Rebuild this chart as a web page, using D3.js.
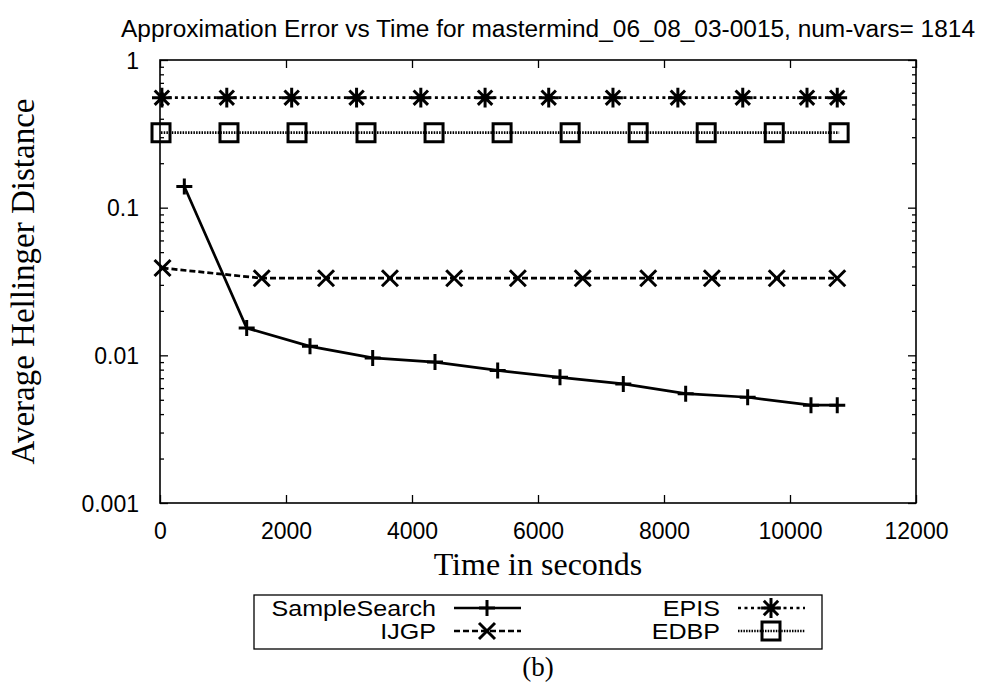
<!DOCTYPE html>
<html>
<head>
<meta charset="utf-8">
<script src="https://cdn.jsdelivr.net/npm/d3@7"></script>
<style>
  body { margin: 0; background: #fff; }
  svg { display: block; }
  .tick text { font-family: "Liberation Sans", Arial, sans-serif; font-size: 23px; fill: #000; }
</style>
</head>
<body>
<div id="chart"></div>
<script>
// values
const ssTime = [386, 1376, 2381, 3376, 4365, 5360, 6349, 7354, 8344, 9328, 10333, 10750];
const ssErr = [0.139, 0.0153, 0.0115, 0.0096, 0.0090, 0.0079, 0.0071, 0.0064, 0.0055, 0.0052, 0.0046, 0.0046];

const ijgpTime = [40, 1615, 2635, 3650, 4670, 5680, 6710, 7750, 8760, 9790, 10750];
const ijgpErr = [0.039, 0.0333, 0.0333, 0.0333, 0.0333, 0.0333, 0.0333, 0.0333, 0.0333, 0.0333, 0.0333];

const episTime = [30, 1060, 2090, 3120, 4140, 5160, 6170, 7190, 8220, 9250, 10270, 10750];
const episErr = [0.556, 0.556, 0.556, 0.556, 0.556, 0.556, 0.556, 0.556, 0.556, 0.556, 0.556, 0.556];

const edbpTime = [16, 1095, 2175, 3270, 4350, 5430, 6510, 7590, 8670, 9750, 10780];
const edbpErr = [0.322, 0.322, 0.322, 0.322, 0.322, 0.322, 0.322, 0.322, 0.322, 0.322, 0.322];

const xTicks = [0, 2000, 4000, 6000, 8000, 10000, 12000];
const yTicks = [0.001, 0.01, 0.1, 1];
const yLabels = ["0.001", "0.01", "0.1", "1"];

const width = 987, height = 683;
const margin = {top: 60, right: 71, bottom: 180, left: 160};

const svg = d3.select("#chart")
  .append("svg")
  .attr("width", width)
  .attr("height", height);

const xScale = d3.scaleLinear()
  .domain([0, 12000])
  .range([margin.left, width - margin.right]);

const yScale = d3.scaleLog()
  .domain([0.001, 1])
  .range([height - margin.bottom, margin.top]);

// minor log ticks 2..9 of every decade
const yMinor = [];
[0.001, 0.01, 0.1].forEach(d => { for (let k = 2; k <= 9; k++) yMinor.push(d * k); });

const x0 = margin.left, x1 = width - margin.right;
const y0 = height - margin.bottom, y1 = margin.top;

function cleanAxis(g) {
  g.select(".domain").remove();
  g.selectAll(".tick line").attr("stroke", "#000").attr("stroke-width", 1.3);
}

// bottom axis with labels, ticks pointing in
const xAxisG = svg.append("g")
  .attr("transform", `translate(0,${y0})`)
  .call(d3.axisBottom(xScale).tickValues(xTicks).tickSizeInner(-8).tickSizeOuter(0).tickFormat(d3.format("d")))
  .call(cleanAxis);
xAxisG.selectAll(".tick text").attr("dy", null).attr("y", 36);

// top mirror ticks
svg.append("g")
  .attr("transform", `translate(0,${y1})`)
  .call(d3.axisTop(xScale).tickValues(xTicks).tickSizeInner(-8).tickSizeOuter(0).tickFormat(""))
  .call(cleanAxis);

// left axis
const yAxisG = svg.append("g")
  .attr("transform", `translate(${x0},0)`)
  .call(d3.axisLeft(yScale).tickValues(yTicks).tickSizeInner(-8).tickSizeOuter(0).tickPadding(21)
    .tickFormat((d, i) => yLabels[i]))
  .call(cleanAxis);
yAxisG.selectAll(".tick text").attr("dy", "0.36em");
svg.append("g")
  .attr("transform", `translate(${x0},0)`)
  .call(d3.axisLeft(yScale).tickValues(yMinor).tickSizeInner(-4).tickSizeOuter(0).tickFormat(""))
  .call(cleanAxis);

// right mirror
svg.append("g")
  .attr("transform", `translate(${x1},0)`)
  .call(d3.axisRight(yScale).tickValues(yTicks).tickSizeInner(-8).tickSizeOuter(0).tickFormat(""))
  .call(cleanAxis);
svg.append("g")
  .attr("transform", `translate(${x1},0)`)
  .call(d3.axisRight(yScale).tickValues(yMinor).tickSizeInner(-4).tickSizeOuter(0).tickFormat(""))
  .call(cleanAxis);

// frame
svg.append("rect")
  .attr("x", x0).attr("y", y1)
  .attr("width", x1 - x0).attr("height", y0 - y1)
  .attr("fill", "none").attr("stroke", "#000").attr("stroke-width", 1.6);

// marker shapes (relative paths)
const plusPath = s => `M${-s},0H${s}M0,${-s}V${s}`;
const crossPath = s => `M${-s},${-s}L${s},${s}M${-s},${s}L${s},${-s}`;
const starPath = s => plusPath(s * 1.1) + crossPath(s * 0.8);
const squarePath = s => `M${-s},${-s}H${s}V${s}H${-s}Z`;

const series = [
  {name: "SampleSearch", time: ssTime, err: ssErr, dash: null, marker: plusPath(8)},
  {name: "IJGP", time: ijgpTime, err: ijgpErr, dash: "6,3", marker: crossPath(8)},
  {name: "EPIS", time: episTime, err: episErr, dash: "3,3.5", marker: starPath(9)},
  {name: "EDBP", time: edbpTime, err: edbpErr, dash: "1.5,1.2", marker: squarePath(9)}
];

const line = d3.line()
  .x(d => xScale(d[0]))
  .y(d => yScale(d[1]));

series.forEach(s => {
  const pts = s.time.map((t, i) => [t, s.err[i]]);
  svg.append("path")
    .datum(pts)
    .attr("d", line)
    .attr("fill", "none")
    .attr("stroke", "#000")
    .attr("stroke-width", 2.7)
    .attr("stroke-dasharray", s.dash);
  svg.selectAll(null)
    .data(pts)
    .enter()
    .append("path")
    .attr("transform", d => `translate(${xScale(d[0])},${yScale(d[1])})`)
    .attr("d", s.marker)
    .attr("fill", "none")
    .attr("stroke", "#000")
    .attr("stroke-width", 3);
});

// title
svg.append("text")
  .attr("x", 548).attr("y", 37)
  .attr("text-anchor", "middle")
  .attr("textLength", 854).attr("lengthAdjust", "spacingAndGlyphs")
  .style("font-family", "'Liberation Sans', Arial, sans-serif")
  .style("font-size", "23px")
  .text("Approximation Error vs Time for mastermind_06_08_03-0015, num-vars= 1814");

// axis titles
svg.append("text")
  .attr("transform", `translate(34,${(y0 + y1) / 2}) rotate(-90)`)
  .attr("text-anchor", "middle")
  .style("font-family", "'Liberation Serif', 'Times New Roman', serif")
  .style("font-size", "33px")
  .text("Average Hellinger Distance");

svg.append("text")
  .attr("x", (x0 + x1) / 2).attr("y", 575)
  .attr("text-anchor", "middle")
  .style("font-family", "'Liberation Serif', 'Times New Roman', serif")
  .style("font-size", "32px")
  .text("Time in seconds");

// legend
const legend = svg.append("g");
legend.append("rect")
  .attr("x", 254).attr("y", 595)
  .attr("width", 568).attr("height", 54)
  .attr("fill", "none").attr("stroke", "#000").attr("stroke-width", 1.3);

const legendPos = [[254, 608], [254, 631], [538, 608], [538, 631]];
series.forEach((s, i) => {
  const [cx, cy] = legendPos[i];
  const t = legend.append("text")
    .attr("x", cx + 182).attr("y", cy + 8)
    .attr("text-anchor", "end")
    .style("font-family", "'Liberation Sans', Arial, sans-serif")
    .style("font-size", "22px")
    .text(s.name);
  // the reference key text is a little wider than the plain font
  t.attr("textLength", t.node().getComputedTextLength() * 1.14).attr("lengthAdjust", "spacingAndGlyphs");
  legend.append("line")
    .attr("x1", cx + 200).attr("x2", cx + 267)
    .attr("y1", cy).attr("y2", cy)
    .attr("stroke", "#000").attr("stroke-width", 2.7)
    .attr("stroke-dasharray", s.dash);
  legend.append("path")
    .attr("transform", `translate(${cx + 233},${cy})`)
    .attr("d", s.marker)
    .attr("fill", "none").attr("stroke", "#000").attr("stroke-width", 3);
});

svg.append("text")
  .attr("x", (x0 + x1) / 2).attr("y", 676)
  .attr("text-anchor", "middle")
  .style("font-family", "'Liberation Serif', 'Times New Roman', serif")
  .style("font-size", "27px")
  .text("(b)");
</script>
</body>
</html>
